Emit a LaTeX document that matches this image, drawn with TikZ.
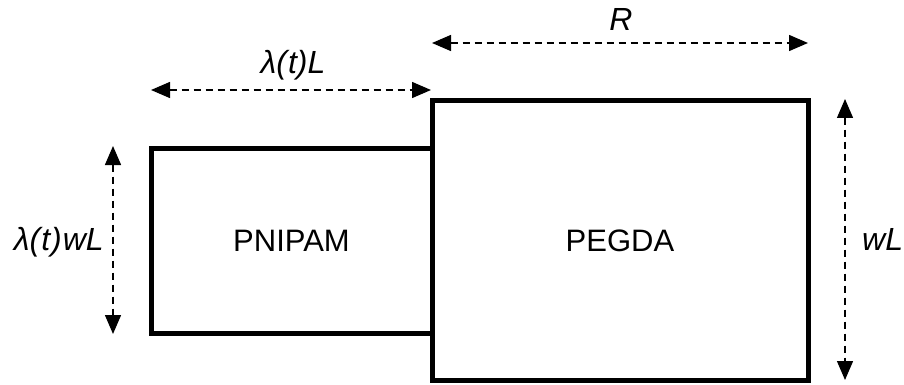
\documentclass[tikz,border=0pt]{standalone}
\usepackage{fontspec}
\setmainfont{Liberation Sans}
\usetikzlibrary{arrows.meta}
\begin{document}
\begin{tikzpicture}[x=1pt,y=-1pt,
  block/.style={draw,line width=5pt,rectangle,inner sep=0pt,font=\fontsize{31}{37}\selectfont},
  dim/.style={dash pattern=on 7pt off 5pt,line width=1.4pt,
    {Triangle[length=19pt,width=16pt]}-{Triangle[length=19pt,width=16pt]}},
  dimlabel/.style={font=\fontsize{32}{38}\selectfont\itshape,inner sep=0pt}]
\useasboundingbox (0,0) rectangle (904,385);
% hydrogel blocks
\node[block,minimum width=281pt,minimum height=185pt] (pnipam) at (291.5,240.5) {PNIPAM};
\node[block,minimum width=376pt,minimum height=280pt] (pegda) at (620,240.5) {PEGDA};
% dimension arrows
\coordinate (lA) at (151,90);
\coordinate (lB) at (431,90);
\coordinate (rA) at (432,43);
\coordinate (rB) at (808,43);
\coordinate (vA) at (113,146);
\coordinate (vB) at (113,334);
\coordinate (wA) at (845,99);
\coordinate (wB) at (845,380);
\draw[dim] (lA) -- (lB);
\draw[dim] (rA) -- (rB);
\draw[dim] (vA) -- (vB);
\draw[dim] (wA) -- (wB);
% dimension labels
\node[dimlabel,anchor=base] (lt) at (293,74) {λ(\kern1pt t)L};
\node[dimlabel,anchor=base] (rt) at (621,31) {R};
\node[dimlabel,anchor=base east] (vt) at (104,250) {λ(\kern1pt t\kern1pt)\kern1pt wL};
\node[dimlabel,anchor=base west] (wt) at (862,250) {wL};
\end{tikzpicture}
\end{document}
